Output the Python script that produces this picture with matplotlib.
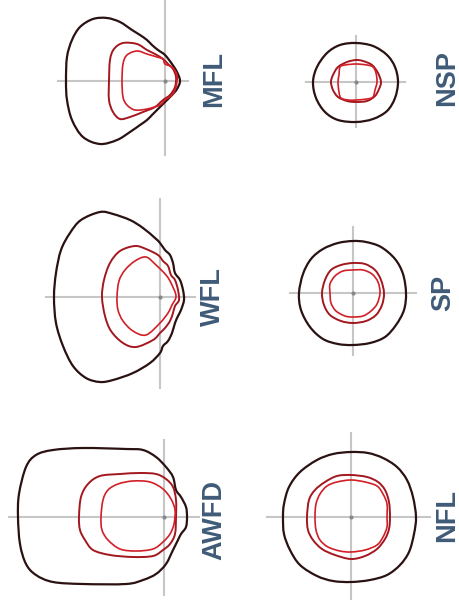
import matplotlib
matplotlib.use("Agg")
import matplotlib.pyplot as plt
from matplotlib.path import Path
from matplotlib.patches import PathPatch

W, H = 460, 607

# panel names
names = ["MFL", "WFL", "AWFD", "NSP", "SP", "NFL"]

# contour points (x, y) per panel, relative to the crosshair origin
# outer = dark line, mid = dark red, inner = red

# ---- AWFD
awfd_outer_x = [23, 22, 17, 14, 9, 2, -8, -21, -38, -81, -111, -128, -138, -144, -146,
                -145, -138, -128, -111, -81, -38, -21, -8, 2, 9, 12, 17, 22]
awfd_outer_y = [0, -10, -17, -23, -33, -47, -57, -63, -67, -67, -65, -58, -47, -27, 0,
                23, 50, 62, 67, 69, 68, 67, 60, 50, 40, 27, 20, 10]
awfd_mid_x = [-85, -83, -76, -64, -44, -24, -8, 2, 9, 12, 12, 11, 6, -1, -11, -31, -54, -71, -79, -84]
awfd_mid_y = [0, 20, 33, 41, 43, 44, 43, 38, 30, 17, 0, -17, -27, -33, -39, -40, -38, -33, -23, -13]
awfd_inner_x = [-63, -61, -56, -46, -31, -14, -1, 7, 11, 10, 6, -1, -11, -28, -44, -56, -62]
awfd_inner_y = [0, 17, 27, 33, 36, 35, 28, 18, 7, -7, -17, -25, -32, -34, -32, -23, -13]

# ---- WFL
wfl_outer_x = [-106, -104, -99, -90, -79, -60, -47, -30, -17, -5, 0, 5, 10, 13, 15, 20, 23,
               24, 21, 18, 15, 12, 8, 3, 0, -10, -27, -47, -60, -74, -87, -97, -104]
wfl_outer_y = [0, 24, 47, 64, 77, 85, 83, 77, 69, 59, 54, 47, 42, 34, 24, 17, 7,
               -3, -13, -19, -26, -36, -44, -49, -56, -66, -76, -83, -85, -81, -69, -49, -26]
wfl_mid_x = [-58, -56, -50, -40, -25, -14, -2, 3, 8, 11, 15, 18, 19, 15, 13, 10, 5, 0, -7, -24, -37, -49, -55]
wfl_mid_y = [0, 17, 34, 46, 51, 48, 42, 36, 31, 22, 17, 7, -3, -9, -16, -24, -31, -36, -43, -50, -46, -34, -19]
wfl_inner_x = [-43, -41, -35, -25, -14, -4, 6, 11, 16, 12, 8, 0, -14, -27, -37, -42]
wfl_inner_y = [0, 16, 27, 36, 40, 32, 22, 14, 1, -8, -16, -26, -38, -34, -24, -13]

# ---- MFL
mfl_outer_x = [-99, -98, -93, -85, -72, -58, -45, -33, -25, -18, -13, -7, 0, 7, 12, 15,
               12, 7, 0, -7, -13, -18, -25, -35, -48, -65, -82, -93, -98]
mfl_outer_y = [0, 24, 41, 54, 62, 63, 59, 51, 46, 41, 36, 31, 26, 17, 9, 0,
               -8, -14, -21, -28, -34, -39, -44, -51, -59, -63, -56, -39, -19]
mfl_mid_x = [-56, -55, -51, -42, -28, -18, -10, -2, 3, 8, 11, 10, 5, -2, -10, -22, -35, -45, -52, -56]
mfl_mid_y = [0, 21, 32, 38, 37, 31, 27, 22, 17, 12, 4, -6, -14, -19, -26, -31, -36, -38, -31, -19]
mfl_inner_x = [-43, -42, -38, -28, -18, -8, -2, 0, 7, 12, 11, 7, 0, -5, -18, -30, -38, -42]
mfl_inner_y = [0, 17, 26, 30, 27, 24, 22, 17, 14, 6, -6, -14, -19, -24, -28, -29, -24, -16]

# ---- NFL
nfl_outer_x = [65, 62, 56, 46, 32, 17, 0, -18, -34, -51, -62, -67, -68, -67, -61, -51,
               -34, -18, 0, 19, 36, 49, 58, 63]
nfl_outer_y = [0, 20, 37, 50, 59, 64, 65, 63, 57, 45, 30, 13, 0, -17, -33, -48,
               -59, -64, -65, -63, -58, -48, -35, -17]
nfl_mid_x = [39, 38, 34, 27, 16, 0, -14, -26, -36, -42, -44, -43, -38, -29, -16, 0, 14, 26, 34, 38]
nfl_mid_y = [0, 15, 27, 35, 40, 42, 41, 35, 27, 17, 0, -13, -23, -32, -38, -42, -39, -32, -22, -12]
nfl_inner_x = [36, 36, 32, 26, 14, 0, -14, -24, -31, -35, -36, -35, -31, -23, -11, 0, 14, 26, 32, 36]
nfl_inner_y = [0, 13, 23, 31, 35, 37, 35, 31, 23, 13, 0, -13, -23, -30, -34, -35, -33, -28, -20, -10]

# ---- SP
sp_outer_x = [53, 50, 42, 28, 13, 0, -15, -30, -42, -50, -54, -52, -43, -30, -15, 0, 17, 32, 43, 51]
sp_outer_y = [0, 19, 34, 46, 51, 52, 50, 44, 34, 19, 0, -17, -34, -46, -51, -52, -50, -44, -32, -17]
sp_mid_x = [31, 28, 22, 12, 0, -12, -22, -28, -31, -29, -23, -12, 0, 13, 23, 29]
sp_mid_y = [0, 13, 23, 29, 30, 28, 23, 13, 0, -12, -22, -28, -30, -28, -22, -12]
sp_inner_x = [27, 25, 19, 10, 0, -10, -18, -23, -23, -22, -17, -8, 0, 10, 18, 24]
sp_inner_y = [0, 11, 19, 23, 23, 22, 17, 9, 0, -10, -18, -23, -24, -23, -18, -11]

# ---- NSP
nsp_outer_x = [42, 39, 31, 17, 0, -16, -29, -39, -43, -40, -31, -18, 0, 17, 31, 39]
nsp_outer_y = [0, 15, 27, 36, 39, 37, 29, 15, 0, -16, -30, -38, -40, -37, -29, -16]
nsp_mid_x = [25, 22, 16, 7, 0, -9, -18, -23, -25, -23, -18, -9, 0, 11, 19, 23]
nsp_mid_y = [0, 9, 17, 21, 22, 20, 15, 7, 0, -8, -15, -19, -20, -19, -14, -7]
nsp_inner_x = [21, 20, 17, 11, 0, -11, -16, -17, -18, -17, -15, -8, 0, 11, 17, 19]
nsp_inner_y = [0, 9, 15, 17, 18, 17, 15, 7, 0, -10, -16, -18, -18, -17, -15, -8]

curves = {
    "AWFD": [(awfd_outer_x, awfd_outer_y), (awfd_mid_x, awfd_mid_y), (awfd_inner_x, awfd_inner_y)],
    "WFL": [(wfl_outer_x, wfl_outer_y), (wfl_mid_x, wfl_mid_y), (wfl_inner_x, wfl_inner_y)],
    "MFL": [(mfl_outer_x, mfl_outer_y), (mfl_mid_x, mfl_mid_y), (mfl_inner_x, mfl_inner_y)],
    "NFL": [(nfl_outer_x, nfl_outer_y), (nfl_mid_x, nfl_mid_y), (nfl_inner_x, nfl_inner_y)],
    "SP": [(sp_outer_x, sp_outer_y), (sp_mid_x, sp_mid_y), (sp_inner_x, sp_inner_y)],
    "NSP": [(nsp_outer_x, nsp_outer_y), (nsp_mid_x, nsp_mid_y), (nsp_inner_x, nsp_inner_y)],
}

# layout (pixels): crosshair origin, crosshair extents, label position
layout = {
    "MFL":  dict(c=(165, 81),  h=(-107, 23), v=(-74, 81), lab=(49, 2)),
    "WFL":  dict(c=(160, 297), h=(-114, 35), v=(-91, 98), lab=(53, 0)),
    "AWFD": dict(c=(164, 517), h=(-155, 35), v=(-78, 77), lab=(50, -3)),
    "NSP":  dict(c=(356, 82),  h=(-50, 49),  v=(-45, 46), lab=(91, 4)),
    "SP":   dict(c=(353, 293), h=(-63, 63),  v=(-62, 66), lab=(90, 0)),
    "NFL":  dict(c=(351, 517), h=(-84, 79),  v=(-82, 84), lab=(96, 2)),
}

line_colors = ["#2b1212", "#a3171f", "#d21f27"]
line_widths = [1.6, 1.4, 1.2]
label_color = "#3f5b77"
cross_color = "#c6c6c6"


def smooth_closed(xs, ys):
    # closed bezier path through the points (catmull-rom control points)
    n = len(xs)
    verts = [(xs[0], ys[0])]
    codes = [Path.MOVETO]
    for i in range(n):
        p0 = (xs[i - 1], ys[i - 1])
        p1 = (xs[i], ys[i])
        p2 = (xs[(i + 1) % n], ys[(i + 1) % n])
        p3 = (xs[(i + 2) % n], ys[(i + 2) % n])
        c1 = (p1[0] + (p2[0] - p0[0]) / 6, p1[1] + (p2[1] - p0[1]) / 6)
        c2 = (p2[0] - (p3[0] - p1[0]) / 6, p2[1] - (p3[1] - p1[1]) / 6)
        verts += [c1, c2, p2]
        codes += [Path.CURVE4] * 3
    return Path(verts, codes)


fig = plt.figure(figsize=(W / 100, H / 100), dpi=100)

for name in names:
    lay = layout[name]
    cx, cy = lay["c"]
    # axes box: local units == pixels
    x0, x1, y0, y1 = -165, 110, -100, 100
    ax = fig.add_axes([(cx + x0) / W, (H - cy + y0) / H, (x1 - x0) / W, (y1 - y0) / H])
    ax.set_xlim(x0, x1)
    ax.set_ylim(y0, y1)
    ax.axis("off")

    ax.plot(lay["h"], [0, 0], color=cross_color, lw=1.5, zorder=1)
    ax.plot([0, 0], lay["v"], color=cross_color, lw=1.5, zorder=1)
    ax.plot([0], [0], marker="o", ms=2, color="#888888", zorder=2)

    for (xs, ys), col, lw in zip(curves[name], line_colors, line_widths):
        ax.add_patch(PathPatch(smooth_closed(xs, ys), fill=False, edgecolor=col,
                               lw=lw, joinstyle="round", zorder=3))

    lx, ly = lay["lab"]
    ax.text(lx, ly, name, rotation=90, ha="center", va="center",
            fontsize=19.5, fontweight="bold", color=label_color,
            family=["Liberation Sans", "DejaVu Sans"])

fig.savefig("out.png", dpi=100)
